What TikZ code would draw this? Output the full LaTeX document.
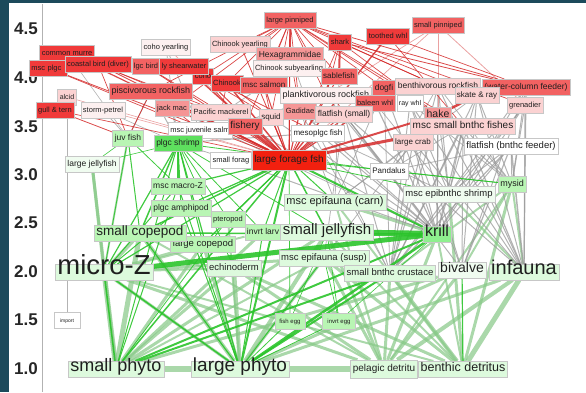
\documentclass[tikz,border=0pt]{standalone}
\usepackage{fontspec}
\setmainfont{Liberation Sans}
\definecolor{frame}{HTML}{1C4A5B}
\definecolor{hotred}{HTML}{F2200F}
\definecolor{redA}{HTML}{F03A3A}
\definecolor{redB}{HTML}{F26262}
\definecolor{redC}{HTML}{F59595}
\definecolor{pinkA}{HTML}{FBD2D2}
\definecolor{pinkB}{HTML}{FDF0F0}
\definecolor{grnA}{HTML}{5EE05E}
\definecolor{grnB}{HTML}{8EF08E}
\definecolor{grnC}{HTML}{B9F5B4}
\definecolor{grnD}{HTML}{DDFADD}
\definecolor{grnE}{HTML}{F0FCF0}
\definecolor{linkred}{HTML}{D42A2A}
\definecolor{linkpink}{HTML}{E58A8A}
\definecolor{linkgreen}{HTML}{2BC42B}
\definecolor{linkpale}{HTML}{86C886}
\definecolor{linkgray}{HTML}{9A9A9A}
\pgfdeclarelayer{links}
\pgfsetlayers{links,main}
\tikzset{
  species/.style={draw=black!22, line width=0.4pt, rectangle, inner xsep=0.22em, inner ysep=0.3em,
    text height=0.74em, text depth=0.22em, text=black!88, font=\fontsize{#1}{#1}\selectfont},
  species/.default=7.5,
  tick/.style={anchor=east, inner sep=0pt, text=black!85, font=\fontsize{17}{17}\selectfont\bfseries},
  axisline/.style={draw=black!30, line width=1pt},
  redlink/.style={draw=linkred, line width=#1pt, opacity=0.85},
  pinklink/.style={draw=linkpink, line width=#1pt, opacity=0.8},
  graylink/.style={draw=linkgray, line width=#1pt, opacity=0.75},
  greenlink/.style={draw=linkgreen, line width=#1pt, opacity=0.9},
  palelink/.style={draw=linkpale, line width=#1pt, opacity=0.7}
}
\begin{document}
\begin{tikzpicture}[x=1pt,y=-1pt]
\useasboundingbox (0,0) rectangle (586,392);
\fill[frame] (0,0) rectangle (9,392);
\fill[frame] (0,0) rectangle (586,3);
\coordinate (axtop) at (42,4);
\coordinate (axbot) at (42,392);
\node[tick] (t45) at (38,29) {4.5};
\node[tick] (t40) at (38,78) {4.0};
\node[tick] (t35) at (38,127) {3.5};
\node[tick] (t30) at (38,175) {3.0};
\node[tick] (t25) at (38,223) {2.5};
\node[tick] (t20) at (38,272) {2.0};
\node[tick] (t15) at (38,320) {1.5};
\node[tick] (t10) at (38,369) {1.0};

\node[species, fill=redB] (lpinn) at (290,20) {large pinniped};
\node[species, fill=redB] (spinn) at (438,25) {small pinniped};
\node[species, fill=redA] (twhl) at (388,36) {toothed whl};
\node[species, fill=redA] (shark) at (340,42) {shark};
\node[species, fill=redA] (cmurre) at (67,53) {common murre};
\node[species, fill=redA, anchor=west, text width=34pt, align=left] (mplgc) at (29,68) {msc plgc};
\node[species, fill=redB] (plgcbird) at (146,66) {lgc bird};
\node[species, fill=redA] (coastal) at (98,64) {coastal bird (diver)};
\node[species, fill=redA] (coho) at (203,76) {coho};
\node[species, fill=redA] (shear) at (184,66) {ly shearwater};
\node[species, fill=pinkB] (cohoyr) at (166,47) {coho yearling};
\node[species, fill=pinkA] (chinyr) at (240,44) {Chinook yearling};
\node[species=8.5, fill=redC] (hexa) at (290,55) {Hexagrammidae};
\node[species, fill=pinkB] (chinsub) at (289,68) {Chinook subyearling};
\node[species, fill=redA] (chinook) at (227,83) {Chinook};
\node[species=8, fill=redB] (msalmon) at (264,85) {msc salmon};
\node[species=9, fill=redB] (pisc) at (151,91) {piscivorous rockfish};
\node[species=8, fill=redB] (sable) at (339,76) {sablefish};
\node[species=9, fill=pinkB] (plank) at (326,95) {planktivorous rockfish};
\node[species=8.5, fill=redB] (dogfi) at (384,88) {dogfi};
\node[species=8.5, fill=pinkA] (benthrock) at (438,86) {benthivorous rockfish};
\node[species=8.5, fill=redB] (wcf) at (526,87) {(water-column feeder)};
\node[species=8, fill=pinkA] (skate) at (477,95) {skate \& ray};
\node[species, fill=pinkA] (grenad) at (525,105) {grenadier};
\node[species, fill=redB] (baleen) at (375,103) {baleen whl};
\node[species=7, fill=white] (gray) at (410,103) {ray whl};
\node[species=10.5, fill=redC] (hake) at (438,115) {hake};
\node[species=10, fill=pinkA] (msbf) at (463,126) {msc small bnthc fishes};
\node[species=8, fill=pinkA] (lcrab) at (413,142) {large crab};
\node[species=9.5, fill=white] (ffbf) at (511,146) {flatfish (bnthc feeder)};
\node[species=7, fill=pinkA] (alcid) at (67,97) {alcid};
\node[species, fill=redA] (gull) at (55,110) {gull \& tern};
\node[species, fill=pinkB] (storm) at (103,110) {storm-petrel};
\node[species, fill=redC] (jack) at (172,108) {jack mac};
\node[species, fill=pinkA] (pacmack) at (221,112) {Pacific mackerel};
\node[species=8, fill=pinkA] (squid) at (271,117) {squid};
\node[species, fill=redC] (gadid) at (300,111) {Gadidae};
\node[species=8.5, fill=pinkA] (ffsmall) at (344,114) {flatfish (small)};
\node[species, fill=white] (mjsalm) at (200,130) {msc juvenile salm};
\node[species=10, fill=redB] (fishery) at (245,126) {fishery};
\node[species=8, fill=white] (meso) at (318,133) {mesoplgc fish};
\node[species, fill=white] (sforage) at (231,160) {small forag};
\node[species=10, fill=hotred, inner ysep=5pt] (lforage) at (289,160) {large forage fsh};

\node[species=8.5, fill=grnC] (juvfish) at (128,138) {juv fish};
\node[species=8.5, fill=grnA] (pshrimp) at (178,143) {plgc shrimp};
\node[species=8.5, fill=grnE] (ljelly) at (92,164) {large jellyfish};
\node[species=8, fill=white] (pandalus) at (389,171) {Pandalus};
\node[species=9, fill=grnC] (mysid) at (512,184) {mysid};
\node[species=9.5, fill=grnE] (epibsh) at (449,194) {msc epibnthc shrimp};
\node[species=8.5, fill=grnC] (macroZ) at (178,186) {msc macro-Z};
\node[species=11, fill=grnD] (epicarn) at (335,202) {msc epifauna (carn)};
\node[species=8.5, fill=grnC] (amphi) at (181,208) {plgc amphipod};
\node[species, fill=grnC] (ptero) at (228,219) {pteropod};
\node[species=9.5, fill=grnC] (lcope) at (203,244) {large copepod};
\node[species=13.5, fill=grnC] (scope) at (140,233) {small copepod};
\node[species=8.5, fill=grnC] (invlarv) at (263,232) {invrt larv};
\node[species=15, fill=grnD] (sjelly) at (327,232) {small jellyfish};
\node[species=16, fill=grnB] (krill) at (437,234) {krill};
\node[species=9.5, fill=grnD] (episusp) at (324,258) {msc epifauna (susp)};
\node[species=9.5, fill=grnD] (echino) at (234,268) {echinoderm};
\node[species=9.5, fill=grnD] (sbc) at (390,273) {small bnthc crustace};
\node[species=14, fill=grnE] (bivalve) at (462,270) {bivalve};
\node[species=20, fill=grnD] (infauna) at (524,272) {infauna};
\node[species=27.5, fill=grnD] (microZ) at (104,272) {micro-Z};
\node[species=5, fill=white, minimum width=26pt, minimum height=14pt] (import) at (67,320) {import};
\node[species=6, fill=grnC, minimum width=30pt] (fishegg) at (290,321) {fish egg};
\node[species=6, fill=grnC, minimum width=33pt] (invegg) at (339,321) {invrt egg};
\node[species=18, fill=grnD] (sphyto) at (116,369) {small phyto};
\node[species=19, fill=grnD] (lphyto) at (240,369) {large phyto};
\node[species=10, fill=grnD, minimum height=18pt] (pdet) at (384,369) {pelagic detritu};
\node[species=12.5, fill=grnD] (bdet) at (463,369) {benthic detritus};

\begin{pgfonlayer}{links}
\draw[axisline] (axtop) -- (axbot);
\foreach \a/\b/\w in {sphyto/lphyto/6, lphyto/pdet/6, pdet/bdet/4,
  sphyto/ljelly/3, sphyto/scope/5, sphyto/microZ/5, sphyto/lcope/3, sphyto/invlarv/3, sphyto/echino/3,
  sphyto/sjelly/3, sphyto/bivalve/3, sphyto/episusp/2,
  lphyto/scope/4, lphyto/lcope/3, lphyto/echino/4, lphyto/sjelly/4, lphyto/episusp/3, lphyto/bivalve/3,
  lphyto/infauna/3, lphyto/ptero/2, lphyto/microZ/3,
  pdet/infauna/4, pdet/bivalve/3, pdet/sjelly/3, pdet/krill/3, pdet/epicarn/2, pdet/microZ/3, pdet/echino/3,
  pdet/episusp/3, pdet/mysid/2, pdet/scope/2, pdet/sbc/3,
  bdet/infauna/5, bdet/sbc/4, bdet/echino/3, bdet/epibsh/3, bdet/mysid/3, bdet/episusp/3, bdet/krill/2,
  bdet/sjelly/2, bdet/microZ/2, bdet/epicarn/2,
  microZ/scope/4, microZ/ljelly/3, microZ/lcope/3, microZ/invlarv/2, microZ/echino/2, microZ/juvfish/2,
  infauna/mysid/2, infauna/epibsh/2, bivalve/mysid/2, epicarn/krill/3, episusp/microZ/3, mysid/sbc/2}
  \draw[palelink=\w] (\a) -- (\b);
\foreach \a/\b/\w in {alcid/import/0.6, storm/juvfish/0.8, pisc/pshrimp/1, pisc/juvfish/1, jack/pshrimp/1,
  pacmack/pshrimp/1, cohoyr/mjsalm/0.8, cohoyr/pshrimp/0.8, mjsalm/pshrimp/1, meso/pshrimp/1,
  squid/pshrimp/1, gadid/pshrimp/0.8, plank/pshrimp/1, chinsub/pshrimp/0.8, hexa/meso/0.8,
  sforage/pshrimp/0.8, meso/krill/1, plank/krill/1, squid/krill/1, gadid/krill/1, ffsmall/krill/1,
  hake/krill/1.2, hake/pandalus/1, hake/epibsh/1, msbf/sbc/1.2, msbf/infauna/1.2, msbf/bivalve/1,
  msbf/epibsh/1, msbf/mysid/1, lcrab/sbc/1, lcrab/bivalve/1, lcrab/infauna/1, lcrab/episusp/0.8,
  ffbf/infauna/1.5, ffbf/bivalve/1.2, ffbf/sbc/1.2, ffbf/epibsh/1, ffbf/mysid/1, grenad/infauna/1,
  grenad/mysid/1, grenad/epibsh/0.8, skate/sbc/1, skate/infauna/1, skate/epicarn/0.8, skate/bivalve/1,
  gray/infauna/1, gray/sbc/1, gray/epibsh/1, benthrock/epibsh/1, benthrock/pandalus/0.8, benthrock/sbc/1,
  benthrock/krill/1, benthrock/infauna/1, wcf/krill/1, wcf/mysid/1, wcf/epibsh/1, dogfi/krill/1,
  dogfi/epicarn/0.8, ffsmall/sbc/1, ffsmall/infauna/1, ffsmall/episusp/0.8, ffsmall/bivalve/1,
  gadid/sbc/0.8, gadid/epicarn/0.8, meso/epibsh/0.8, sable/epicarn/0.8, epibsh/sbc/1, lcrab/epicarn/0.8,
  msbf/pandalus/0.8, sforage/krill/1, pacmack/krill/0.8, jack/krill/0.8, baleen/krill/1.2,
  ffsmall/pandalus/0.8, hake/mysid/1, storm/pshrimp/0.6, cmurre/juvfish/0.6,
  ffbf/krill/1, grenad/krill/1, grenad/sbc/1, skate/krill/1, skate/mysid/1, wcf/infauna/1.2,
  wcf/bivalve/1, benthrock/mysid/0.8, lcrab/krill/1, msbf/krill/1.2, hake/sbc/1, hake/infauna/1,
  gray/bivalve/1, gray/mysid/0.8, baleen/epibsh/0.8, ffbf/pandalus/0.8, dogfi/sbc/0.8, meso/sbc/0.8}
  \draw[graylink=\w] (\a) -- (\b);
\foreach \a/\b/\w in {pshrimp/scope/1.5, pshrimp/microZ/1.2, pshrimp/macroZ/1.2, pshrimp/amphi/1,
  pshrimp/lcope/1, pshrimp/echino/0.8, pshrimp/sjelly/0.8, pshrimp/ptero/0.8, pshrimp/invlarv/0.8,
  pshrimp/sphyto/1, pshrimp/lphyto/1.2, pshrimp/ljelly/0.6,
  lforage/scope/1.5, lforage/lcope/1.2, lforage/macroZ/1.2, lforage/amphi/1.2, lforage/ptero/1,
  lforage/krill/2, lforage/mysid/0.8, lforage/epibsh/0.8, lforage/sjelly/1.5, lforage/invlarv/1,
  lforage/fishegg/0.7, lforage/microZ/1.2, lforage/epicarn/1, lforage/lphyto/2, lforage/sphyto/1.5,
  juvfish/scope/1, juvfish/macroZ/0.8, juvfish/microZ/0.8, juvfish/ljelly/0.6,
  krill/sphyto/2, krill/lphyto/2.5, krill/microZ/5, krill/sjelly/6, krill/scope/1.5,
  lphyto/microZ/1.5, lphyto/scope/1.2, lphyto/amphi/1, lphyto/macroZ/1, lphyto/invegg/0.8,
  lphyto/fishegg/0.8, lphyto/sbc/2, lphyto/episusp/1, sphyto/microZ/1.5, sphyto/sbc/2,
  sphyto/macroZ/1, sphyto/ptero/0.8, macroZ/microZ/1, amphi/microZ/1, invlarv/lphyto/1,
  pandalus/mysid/0.8, pshrimp/pandalus/0.8, bdet/bivalve/1.2, invegg/sjelly/0.7, invegg/episusp/0.7,
  fishegg/sjelly/0.6, invegg/krill/0.6}
  \draw[greenlink=\w] (\a) -- (\b);
\foreach \a/\b/\w in {spinn/grenad/0.8, spinn/hake/0.8, spinn/plank/0.7, spinn/lforage/0.7,
  storm/lforage/0.6, cohoyr/lforage/0.6, alcid/lforage/0.6}
  \draw[pinklink=\w] (\a) -- (\b);
\foreach \a/\b/\w in {lpinn/chinyr/0.7, lpinn/hexa/0.7, lpinn/chinsub/0.7, lpinn/chinook/0.7,
  lpinn/msalmon/0.7, lpinn/plank/0.7, lpinn/squid/0.7, lpinn/gadid/0.7, lpinn/ffsmall/0.7,
  lpinn/sable/0.7, lpinn/benthrock/0.7, lpinn/wcf/0.8, lpinn/hake/0.7, lpinn/msbf/0.7,
  lpinn/lforage/0.8, lpinn/coho/0.7, lpinn/pisc/0.7, lpinn/dogfi/0.7, lpinn/skate/0.7,
  lpinn/grenad/0.7, lpinn/fishery/0.7, lpinn/jack/0.7,
  shark/sable/2, shark/benthrock/0.8, shark/wcf/0.8, shark/hake/0.7, shark/lforage/0.7, shark/plank/0.7,
  twhl/lforage/1.4, twhl/wcf/0.7, twhl/msbf/0.7,
  cmurre/lforage/1.2, cmurre/pacmack/0.7, mplgc/lforage/0.8, mplgc/mjsalm/0.7,
  coastal/lforage/0.9, coastal/fishery/0.7, coastal/juvfish/0.7, plgcbird/lforage/0.8, plgcbird/pacmack/0.7,
  shear/lforage/1.5, shear/meso/0.7, shear/squid/0.7, coho/lforage/1, coho/fishery/0.7,
  chinook/lforage/1.5, chinook/pacmack/0.7, chinook/squid/0.8, msalmon/lforage/1, msalmon/squid/0.7,
  chinyr/lforage/0.8, chinsub/lforage/0.8, hexa/lforage/0.8, hexa/gadid/0.7,
  pisc/lforage/1.5, pisc/juvfish/0.8, pisc/mjsalm/0.7, gull/juvfish/0.8, gull/lforage/0.7,
  jack/lforage/1, pacmack/lforage/1, squid/lforage/1.2, gadid/lforage/1.2, fishery/lforage/2.5,
  sable/lforage/1, sable/gadid/0.7, dogfi/lforage/1, dogfi/hake/0.8, baleen/lforage/1.2,
  ffsmall/lforage/1, msbf/lforage/3, hake/lforage/2, skate/hake/2.5, plank/lforage/1, meso/lforage/1}
  \draw[redlink=\w] (\a) -- (\b);
\end{pgfonlayer}
\end{tikzpicture}
\end{document}
